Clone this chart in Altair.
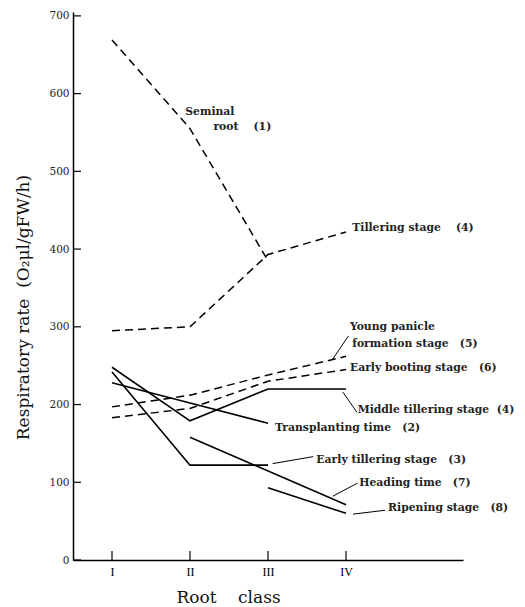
import altair as alt
import pandas as pd

# Root classes (1=I, 2=II, 3=III, 4=IV)
classes = [1, 2, 3, 4]
class_labels = ["I", "II", "III", "IV"]

# Series values (None = not measured)
seminal_root = [669, 555, 385, None]
tillering = [295, 300, 393, 422]
young_panicle = [197, 212, 238, 262]
early_booting = [183, 195, 230, 245]
transplanting = [228, 202, 176, None]
middle_tillering = [248, 179, 220, 220]
early_tillering = [242, 122, 122, None]
heading = [None, 158, None, 71]
ripening = [None, None, 93, 60]

series = [
    ("Seminal root", seminal_root, "dashed"),
    ("Tillering stage", tillering, "dashed"),
    ("Young panicle formation stage", young_panicle, "dashed"),
    ("Early booting stage", early_booting, "dashed"),
    ("Transplanting time", transplanting, "solid"),
    ("Middle tillering stage", middle_tillering, "solid"),
    ("Early tillering stage", early_tillering, "solid"),
    ("Heading time", heading, "solid"),
    ("Ripening stage", ripening, "solid"),
]

rows = []
for name, vals, style in series:
    for c, v in zip(classes, vals):
        if v is not None:
            rows.append({"series": name, "cls": c, "rate": v, "style": style})
df = pd.DataFrame(rows)

y_ticks = [0, 100, 200, 300, 400, 500, 600, 700]

# Annotation labels (data coordinates)
NB = "\u00a0"
ann_text = ["Seminal", "root" + NB * 4 + "(1)", "Tillering stage" + NB * 4 + "(4)",
            "Young panicle", "formation stage" + NB * 3 + "(5)",
            "Early booting stage" + NB * 3 + "(6)",
            "Middle tillering stage" + NB * 2 + "(4)",
            "Transplanting time" + NB * 3 + "(2)",
            "Early tillering stage" + NB * 3 + "(3)",
            "Heading time" + NB * 3 + "(7)",
            "Ripening stage" + NB * 3 + "(8)"]
ann_x = [1.94, 2.30, 4.08, 4.05, 4.08, 4.05, 4.15, 3.09, 3.62, 4.17, 4.54]
ann_y = [576, 557, 427, 300, 278, 247, 193, 170, 129, 99, 67]
ann_df = pd.DataFrame({"text": ann_text, "x": ann_x, "y": ann_y})

# Leader lines
lead_x = [3.82, 3.96, 3.06, 3.83, 4.09]
lead_y = [257, 216, 124, 82, 59]
lead_x2 = [4.03, 4.14, 3.58, 4.15, 4.50]
lead_y2 = [288, 190, 133, 99, 64]
lead_df = pd.DataFrame({"x": lead_x, "y": lead_y, "x2": lead_x2, "y2": lead_y2})

W, H = 390, 548
FONT = "DejaVu Serif"

xscale = alt.Scale(domain=[0.5, 5.5], nice=False)
yscale = alt.Scale(domain=[0, 705], nice=False)

label_expr = ("datum.value == 1 ? 'I' : datum.value == 2 ? 'II' : "
              "datum.value == 3 ? 'III' : 'IV'")

base = alt.Chart(df)

solid = base.transform_filter(alt.datum.style == "solid").mark_line(
    color="black", strokeWidth=1.6
).encode(
    x=alt.X("cls:Q", scale=xscale,
            axis=alt.Axis(values=classes, labelExpr=label_expr, ticks=False, grid=False,
                          domainColor="black", domainWidth=1.5,
                          labelFont="Liberation Serif",
                          labelFontSize=12, labelColor="black", labelPadding=6,
                          title="Root" + NB * 4 + "class", titleFont=FONT,
                          titleFontSize=17, titleFontWeight="normal", titleColor="#111",
                          titleX=155, titleY=37, titleBaseline="middle",
                          titleAlign="center")),
    y=alt.Y("rate:Q", scale=yscale,
            axis=alt.Axis(values=y_ticks, ticks=False, grid=False, domainColor="black",
                          domainWidth=1.5, labelFont=FONT, labelFontSize=10.5,
                          labelColor="#222", labelPadding=4,
                          title="Respiratory rate" + NB * 2 + "(O₂μl/gFW/h)",
                          titleFont=FONT,
                          titleFontSize=17, titleFontWeight="normal", titleColor="#111",
                          titleX=-50, titleY=295, titleAngle=-90,
                          titleBaseline="middle", titleAlign="center")),
    detail="series:N",
)

dashed = base.transform_filter(alt.datum.style == "dashed").mark_line(
    color="black", strokeWidth=1.5, strokeDash=[8, 5]
).encode(
    x=alt.X("cls:Q", scale=xscale),
    y=alt.Y("rate:Q", scale=yscale),
    detail="series:N",
)

ytick_df = pd.DataFrame({"v": y_ticks})
yticks = alt.Chart(ytick_df).mark_rule(color="black", strokeWidth=1.2).encode(
    y=alt.Y("v:Q", scale=yscale),
    x=alt.value(0), x2=alt.value(8),
)
xtick_df = pd.DataFrame({"c": classes})
xticks = alt.Chart(xtick_df).mark_rule(color="black", strokeWidth=1.2).encode(
    x=alt.X("c:Q", scale=xscale),
    y=alt.value(H - 9), y2=alt.value(H),
)

labels = alt.Chart(ann_df).mark_text(
    align="left", baseline="middle", font=FONT, fontSize=10.8, fontWeight="bold",
    color="#222"
).encode(
    x=alt.X("x:Q", scale=xscale),
    y=alt.Y("y:Q", scale=yscale),
    text="text:N",
)

leaders = alt.Chart(lead_df).mark_rule(color="black", strokeWidth=1).encode(
    x=alt.X("x:Q", scale=xscale), y=alt.Y("y:Q", scale=yscale),
    x2="x2:Q", y2="y2:Q",
)

chart = alt.layer(solid, dashed, yticks, xticks, leaders, labels).properties(
    width=W, height=H,
    autosize=alt.AutoSizeParams(type="none"),
    padding={"left": 65, "top": 4, "right": 54, "bottom": 47},
).configure(background="white", view=alt.ViewConfig(stroke=None))

chart.save("out.html", embed_options={"renderer": "svg", "actions": False})
